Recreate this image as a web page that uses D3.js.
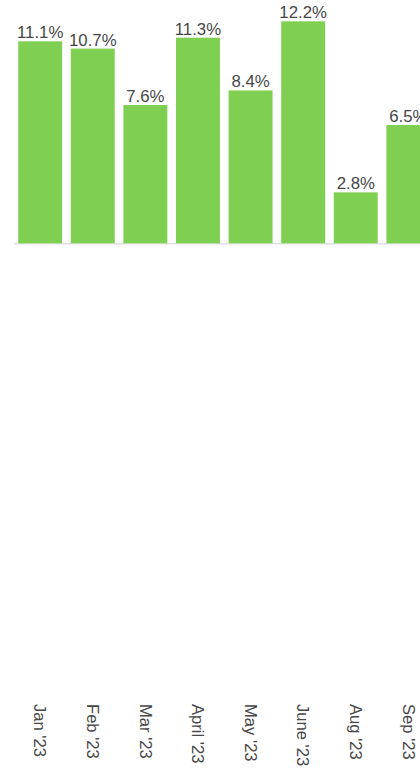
<!DOCTYPE html>
<html>
<head>
<meta charset="utf-8">
<script src="https://cdn.jsdelivr.net/npm/d3@7"></script>
<style>
html,body{margin:0;padding:0;background:#fff;}
svg{display:block;}
text{font-family:"Liberation Sans",Arial,Helvetica,sans-serif;}
</style>
</head>
<body>
<svg id="chart" width="420" height="770"></svg>
<script>
const categories = ["Jan '23","Feb '23","Mar '23","April '23","May '23","June '23","Aug '23","Sep '23"];
const values = [11.1, 10.7, 7.6, 11.3, 8.4, 12.2, 2.8, 6.5];
const valueLabels = ["11.1%","10.7%","7.6%","11.3%","8.4%","12.2%","2.8%","6.5%"];

const svg = d3.select("#chart");
const step = 52.6;
const x = d3.scaleBand()
  .domain(categories)
  .range([14, 14 + step * (categories.length - 0.165 + 0.16)])
  .paddingInner(0.165)
  .paddingOuter(0.08);

const y = d3.scaleLinear().domain([0, 12.2]).range([243.3, 21.3]);

// baseline
svg.append("line")
  .attr("x1", 14).attr("x2", 440)
  .attr("y1", y(0) + 0.5).attr("y2", y(0) + 0.5)
  .attr("stroke", "#e0e0e0").attr("stroke-width", 1.5);

svg.selectAll("rect.bar").data(values).enter().append("rect")
  .attr("class", "bar")
  .attr("x", (d, i) => x(categories[i]))
  .attr("width", x.bandwidth())
  .attr("y", d => y(d))
  .attr("height", d => y(0) - y(d))
  .attr("fill", "#7fcf52");

svg.selectAll("text.val").data(values).enter().append("text")
  .attr("class", "val")
  .attr("x", (d, i) => x(categories[i]) + x.bandwidth() / 2)
  .attr("y", d => y(d) - 3)
  .attr("text-anchor", "middle")
  .attr("font-size", 16.8)
  .attr("fill", "#474747")
  .text((d, i) => valueLabels[i]);

svg.selectAll("text.cat").data(categories).enter().append("text")
  .attr("class", "cat")
  .attr("transform", d => `translate(${x(d) + x.bandwidth() / 2},704) rotate(90)`)
  .attr("dy", "0.35em")
  .attr("text-anchor", "start")
  .attr("font-size", 16.6)
  .attr("fill", "#474747")
  .text(d => d);
</script>
</body>
</html>
